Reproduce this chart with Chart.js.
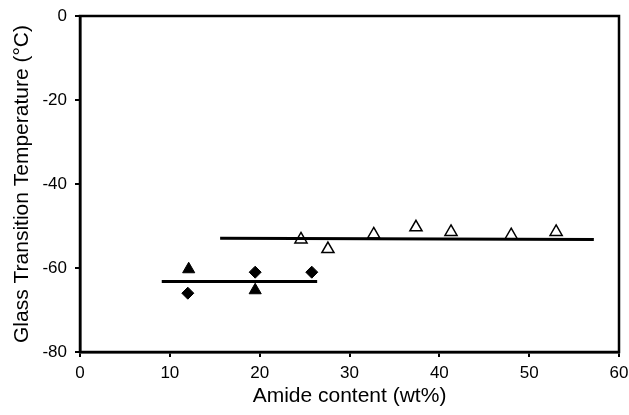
<!DOCTYPE html>
<html>
<head>
<meta charset="UTF-8" />
<script src="https://cdn.jsdelivr.net/npm/chart.js"></script>
<style>
  html, body { margin: 0; padding: 0; background: #fff; }
  #box { width: 629px; height: 415px; }
</style>
</head>
<body>
<div id="box"><canvas id="grafico"></canvas></div>
<script>
  // dados
  const triCheioX = [12.1, 19.5];
  const triCheioY = [-60.3, -65.3];
  const losangoX = [12.0, 19.5, 25.8];
  const losangoY = [-66.0, -61.0, -61.0];
  const triAbertoX = [24.6, 27.6, 32.7, 37.4, 41.3, 48.0, 53.0];
  const triAbertoY = [-53.2, -55.5, -52.0, -50.3, -51.4, -52.2, -51.4];
  const linhaBaixoX = [9.1, 26.4];
  const linhaBaixoY = [-63.2, -63.2];
  const linhaCimaX = [15.6, 57.2];
  const linhaCimaY = [-52.9, -53.2];
  const ticksX = [0, 10, 20, 30, 40, 50, 60];
  const ticksY = [-80, -60, -40, -20, 0];

  function pontos(xs, ys) {
    return xs.map(function (x, i) { return { x: x, y: ys[i] }; });
  }

  // moldura em volta da area do grafico
  const moldura = {
    id: "moldura",
    afterDraw(chart) {
      const a = chart.chartArea;
      const ctx = chart.ctx;
      ctx.save();
      ctx.strokeStyle = "#000";
      ctx.lineWidth = 2.5;
      ctx.strokeRect(a.left, a.top, a.right - a.left, a.bottom - a.top);
      ctx.restore();
    }
  };

  const familia = "'Liberation Sans', Arial, sans-serif";
  const fonteTick = { family: familia, size: 17 };
  const fonteTitulo = { family: familia, size: 21 };

  new Chart(document.getElementById("grafico"), {
    type: "scatter",
    data: {
      datasets: [
        {
          label: "linha baixo",
          data: pontos(linhaBaixoX, linhaBaixoY),
          showLine: true,
          borderColor: "#000",
          borderWidth: 3,
          pointRadius: 0
        },
        {
          label: "linha cima",
          data: pontos(linhaCimaX, linhaCimaY),
          showLine: true,
          borderColor: "#000",
          borderWidth: 3,
          pointRadius: 0
        },
        {
          label: "triangulo cheio",
          data: pontos(triCheioX, triCheioY),
          pointStyle: "triangle",
          pointRadius: 7,
          backgroundColor: "#000",
          borderColor: "#000",
          borderWidth: 1
        },
        {
          label: "losango",
          data: pontos(losangoX, losangoY),
          pointStyle: "rectRot",
          pointRadius: 6,
          backgroundColor: "#000",
          borderColor: "#000",
          borderWidth: 1
        },
        {
          label: "triangulo aberto",
          data: pontos(triAbertoX, triAbertoY),
          pointStyle: "triangle",
          pointRadius: 7,
          backgroundColor: "#fff",
          borderColor: "#000",
          borderWidth: 1.5
        }
      ]
    },
    options: {
      responsive: true,
      maintainAspectRatio: false,
      animation: false,
      layout: { padding: { top: 16, right: 10, left: 0, bottom: 0 } },
      plugins: { legend: { display: false }, tooltip: { enabled: false } },
      scales: {
        x: {
          type: "linear",
          min: 0,
          max: 60,
          afterBuildTicks(axis) { axis.ticks = ticksX.map(function (v) { return { value: v }; }); },
          afterFit(axis) { axis.height = 63; axis.paddingLeft = 0; axis.paddingRight = 0; },
          grid: { drawOnChartArea: false, drawTicks: true, tickLength: 5, color: "#000", lineWidth: 2 },
          border: { display: true, color: "#000", width: 2.5 },
          ticks: { color: "#000", font: fonteTick, padding: 6, maxRotation: 0 },
          title: { display: true, text: "Amide content (wt%)", color: "#000", font: fonteTitulo, padding: { top: 4, bottom: 6 } }
        },
        y: {
          type: "linear",
          min: -80,
          max: 0,
          afterBuildTicks(axis) { axis.ticks = ticksY.map(function (v) { return { value: v }; }); },
          afterFit(axis) { axis.width = 80; axis.paddingTop = 0; axis.paddingBottom = 0; },
          grid: { drawOnChartArea: false, drawTicks: true, tickLength: 5, color: "#000", lineWidth: 2 },
          border: { display: true, color: "#000", width: 2.5 },
          ticks: { color: "#000", font: fonteTick, padding: 8 },
          title: { display: true, text: "Glass Transition Temperature (°C)", color: "#000", font: fonteTitulo, padding: { top: 10, bottom: 0 } }
        }
      }
    },
    plugins: [moldura]
  });
</script>
</body>
</html>
